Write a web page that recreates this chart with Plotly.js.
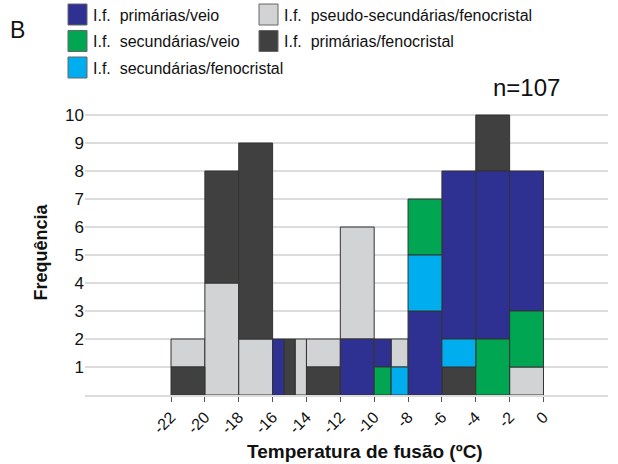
<!DOCTYPE html>
<html>
<head>
<meta charset="utf-8">
<script src="https://cdn.plot.ly/plotly-3.0.1.min.js"></script>
<style>html,body{margin:0;padding:0;background:#fff;}#chart{width:618px;height:464px;}</style>
</head>
<body>
<div id="chart"></div>
<script>
// Series names
const seriesNames = [
  "I.f.  primárias/veio",
  "I.f.  secundárias/veio",
  "I.f.  secundárias/fenocristal",
  "I.f.  pseudo-secundárias/fenocristal",
  "I.f.  primárias/fenocristal"
];

// Each segment: bin start (ºC), bin end (ºC), cumulative frequency at bottom, at top
const primVeioStart = [-16, -12, -10, -8, -6, -4, -2];
const primVeioEnd   = [-15.33, -10, -9, -6, -4, -2, 0];
const primVeioFrom  = [0, 0, 1, 0, 2, 2, 3];
const primVeioTo    = [2, 2, 2, 3, 8, 8, 8];

const secVeioStart = [-10, -8, -4, -2];
const secVeioEnd   = [-9, -6, -2, 0];
const secVeioFrom  = [0, 5, 0, 1];
const secVeioTo    = [1, 7, 2, 3];

const secFenoStart = [-9, -8, -6];
const secFenoEnd   = [-8, -6, -4];
const secFenoFrom  = [0, 3, 1];
const secFenoTo    = [1, 5, 2];

const pseudoStart = [-22, -20, -18, -14.67, -14, -12, -9, -2];
const pseudoEnd   = [-20, -18, -16, -14, -12, -10, -8, 0];
const pseudoFrom  = [1, 0, 0, 0, 1, 2, 1, 0];
const pseudoTo    = [2, 4, 2, 2, 2, 6, 2, 1];

const primFenoStart = [-22, -20, -18, -15.33, -14, -6, -4];
const primFenoEnd   = [-20, -18, -16, -14.67, -12, -4, -2];
const primFenoFrom  = [0, 4, 2, 0, 0, 0, 8];
const primFenoTo    = [1, 8, 9, 2, 1, 1, 10];

const xTickVals = [-22, -20, -18, -16, -14, -12, -10, -8, -6, -4, -2, 0];
const xTickText = ["-22", "-20", "-18", "-16", "-14", "-12", "-10", "-8", "-6", "-4", "-2", "0"];
const yTickVals = [1, 2, 3, 4, 5, 6, 7, 8, 9, 10];
const nLabel = "n=107";

const colors = ["#2E3192", "#00A651", "#00AEEF", "#D1D3D4", "#404040"];

function makeTrace(name, s, e, f, t, color) {
  return {
    type: "bar",
    name: name,
    x: s.map((v, i) => (v + e[i]) / 2),
    width: s.map((v, i) => e[i] - v),
    base: f,
    y: t.map((v, i) => v - f[i]),
    marker: { color: color, line: { color: "#333333", width: 1 } },
    hoverinfo: "skip",
    showlegend: false
  };
}

const data = [
  makeTrace(seriesNames[3], pseudoStart, pseudoEnd, pseudoFrom, pseudoTo, colors[3]),
  makeTrace(seriesNames[4], primFenoStart, primFenoEnd, primFenoFrom, primFenoTo, colors[4]),
  makeTrace(seriesNames[0], primVeioStart, primVeioEnd, primVeioFrom, primVeioTo, colors[0]),
  makeTrace(seriesNames[1], secVeioStart, secVeioEnd, secVeioFrom, secVeioTo, colors[1]),
  makeTrace(seriesNames[2], secFenoStart, secFenoEnd, secFenoFrom, secFenoTo, colors[2])
];

// layout geometry in pixels
const L = 85, R = 10, T = 110, B = 69, W = 618, H = 464;
const pw = W - L - R, ph = H - T - B;
const px = p => (p - L) / pw;
const py = p => (H - B - p) / ph;

// custom legend (two columns)
const legendPos = [
  { col: 0, row: 0 }, { col: 0, row: 1 }, { col: 0, row: 2 },
  { col: 1, row: 0 }, { col: 1, row: 1 }
];
const shapes = [], annotations = [];
const colX = [68, 259], rowY = [4, 30.5, 57];
seriesNames.forEach((nm, i) => {
  const p = legendPos[i];
  const x0 = colX[p.col], y0 = rowY[p.row];
  shapes.push({
    type: "rect", xref: "paper", yref: "paper",
    x0: px(x0), x1: px(x0 + 19), y0: py(y0), y1: py(y0 + 21),
    fillcolor: colors[i], line: { color: "#666", width: 1 }
  });
  annotations.push({
    xref: "paper", yref: "paper", x: px(x0 + 23), y: py(y0 + 11),
    xanchor: "left", yanchor: "middle", showarrow: false,
    text: nm.replace("  ", "\u00A0 "),
    font: { size: 16, color: "#111" }
  });
});
annotations.push({
  xref: "paper", yref: "paper", x: px(8), y: py(30), xanchor: "left", yanchor: "middle",
  showarrow: false, text: "B", font: { size: 23, color: "#111" }
});
annotations.push({
  xref: "paper", yref: "paper", x: px(526), y: py(87), xanchor: "center", yanchor: "middle",
  showarrow: false, text: nLabel, font: { size: 24, color: "#111" }
});
annotations.push({
  xref: "paper", yref: "paper", x: px(365), y: py(451), xanchor: "center", yanchor: "middle",
  showarrow: false, text: "<b>Temperatura de fusão (ºC)</b>", font: { size: 19, color: "#111" }
});

const layout = {
  width: W, height: H,
  margin: { l: L, r: R, t: T, b: B, pad: 0 },
  paper_bgcolor: "#fff", plot_bgcolor: "#fff",
  font: { family: "Liberation Sans, Arial, sans-serif", color: "#111" },
  barmode: "overlay",
  bargap: 0,
  showlegend: false,
  xaxis: {
    range: [-27.08, 3.81],
    tickvals: xTickVals, ticktext: xTickText,
    tickangle: -45,
    ticks: "outside", ticklen: 5, tickcolor: "#555", tickwidth: 1,
    tickfont: { size: 16, color: "#111" },
    showgrid: false, zeroline: false,
    showline: true, linecolor: "#dcdcdc", linewidth: 1.5,
    fixedrange: true
  },
  yaxis: {
    range: [0, 10.18],
    tickvals: yTickVals,
    ticks: "", tickfont: { size: 17, color: "#111" },
    showgrid: true, gridcolor: "#dcdcdc", gridwidth: 1.5,
    zeroline: false, showline: false,
    title: { text: "<b>Frequência</b>", font: { size: 18, color: "#111" }, standoff: 12 },
    fixedrange: true
  },
  shapes: shapes,
  annotations: annotations
};

Plotly.newPlot("chart", data, layout, { displayModeBar: false, staticPlot: true });
</script>
</body>
</html>
